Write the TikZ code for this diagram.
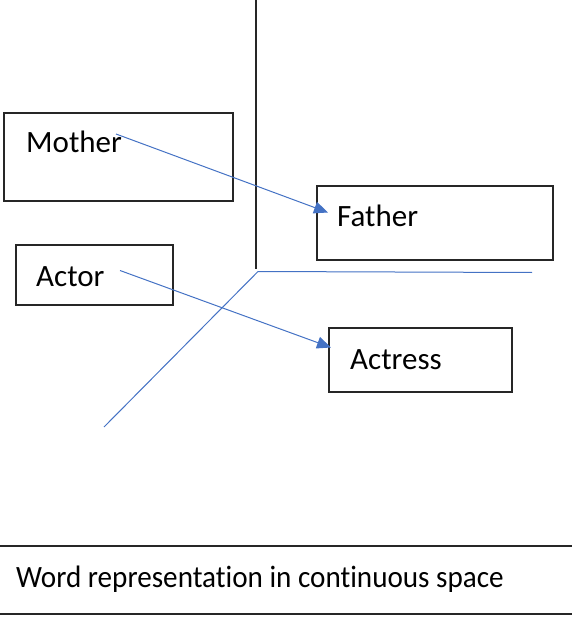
\documentclass[tikz,border=0pt]{standalone}
\usepackage{fontspec}
\setmainfont{Carlito}[Ligatures=NoCommon]
\usetikzlibrary{arrows.meta}
\definecolor{officeblue}{HTML}{4472C4}
\tikzset{
  box/.style={draw=black!85, line width=1.3pt, inner sep=0pt},
  word/.style={anchor=base west, inner sep=0pt, font=\fontsize{31}{37}\selectfont},
  axisk/.style={draw=black!85, line width=1.3pt},
  axisb/.style={draw=officeblue, line width=1pt},
  vec/.style={draw=officeblue, line width=1pt, -{Triangle[length=14pt,width=12pt]}}
}
\begin{document}
\begin{tikzpicture}[x=1pt,y=-1pt]
\useasboundingbox (0,0) rectangle (572,617);
% boxes
\node[box, minimum width=229pt, minimum height=88pt] (mbox) at (118.5,157) {};
\node[box, minimum width=236pt, minimum height=74pt] (fbox) at (435,223) {};
\node[box, minimum width=157pt, minimum height=60pt] (abox) at (94.5,275) {};
\node[box, minimum width=183pt, minimum height=64pt] (sbox) at (420.5,360) {};
% words
\node[word] (mother) at (26,153) {Mother};
\node[word] (father) at (337,227) {Father};
\node[word] (actor) at (36,286) {Actor};
\node[word] (actress) at (350,369) {Actress};
% axes
\coordinate (top) at (256,0);
\coordinate (kend) at (256,269);
\coordinate (o) at (258,271.5);
\coordinate (xend) at (532,272.5);
\coordinate (zend) at (104,427);
\draw[axisk] (top) -- (kend);
\draw[axisb] (o) -- (xend);
\draw[axisb] (o) -- (zend);
% vectors
\coordinate (m1) at (116,134);
\coordinate (f1) at (328,212.5);
\coordinate (a1) at (120,270.5);
\coordinate (s1) at (331,347.5);
\draw[vec] (m1) -- (f1);
\draw[vec] (a1) -- (s1);
% caption
\coordinate (l1a) at (0,546); \coordinate (l1b) at (572,546);
\coordinate (l2a) at (0,614); \coordinate (l2b) at (572,614);
\draw[axisk] (l1a) -- (l1b);
\draw[axisk] (l2a) -- (l2b);
\node[word] (caption) at (16,587) {\scalebox{0.94}[1]{Word representation in continuous space}};
\end{tikzpicture}
\end{document}
